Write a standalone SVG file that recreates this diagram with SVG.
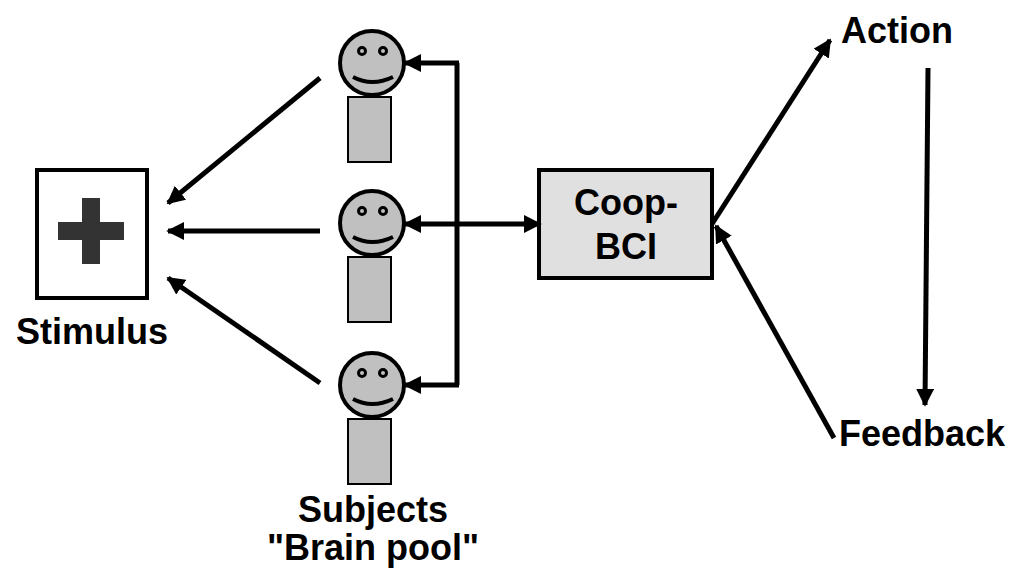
<svg xmlns="http://www.w3.org/2000/svg" width="1024" height="587" viewBox="0 0 1024 587">
<style>
.t{font-family:"Liberation Sans",Arial,sans-serif;font-weight:bold;font-size:36px;fill:#000}
.c{stroke:#000;stroke-width:5;fill:none}
.face{fill:#c0c0c0;stroke:#000;stroke-width:4}
.body{fill:#c0c0c0;stroke:#000;stroke-width:2}
</style>
<defs>
<marker id="a" viewBox="0 0 10 10" refX="9" refY="5" markerWidth="3.6" markerHeight="3.6" orient="auto-start-reverse" markerUnits="strokeWidth"><path d="M0,0 L10,5 L0,10 z" fill="#000"/></marker>
<g id="person">
<circle class="face" cx="0" cy="0" r="32"/>
<circle cx="-10" cy="-12" r="3.5" fill="none" stroke="#000" stroke-width="3"/>
<circle cx="11" cy="-12" r="3.5" fill="none" stroke="#000" stroke-width="3"/>
<path d="M-19,14 Q0,24 21,14" fill="none" stroke="#000" stroke-width="4"/>
<rect class="body" x="-24" y="34" width="43" height="65"/>
</g>
</defs>
<g id="stimulus">
<rect x="37" y="170" width="110" height="128" fill="#fff" stroke="#000" stroke-width="4"/>
<rect x="58" y="222" width="66" height="18" fill="#333"/>
<rect x="82" y="198" width="18" height="66" fill="#333"/>
<text class="t" x="92" y="344" text-anchor="middle">Stimulus</text>
</g>
<g id="subject1"><use href="#person" x="372" y="63"/></g>
<g id="subject2"><use href="#person" x="372" y="223"/></g>
<g id="subject3"><use href="#person" x="372" y="385"/></g>
<g id="subjects-label">
<text class="t" x="373" y="522" text-anchor="middle">Subjects</text>
<text class="t" x="373" y="560" text-anchor="middle">"Brain pool"</text>
</g>
<g id="coop">
<rect x="539" y="170" width="173" height="108" fill="#e0e0e0" stroke="#000" stroke-width="4"/>
<text class="t" x="626" y="215" text-anchor="middle">Coop-</text>
<text class="t" x="626" y="259" text-anchor="middle">BCI</text>
</g>
<g id="action"><text class="t" x="897" y="43" text-anchor="middle">Action</text></g>
<g id="feedback"><text class="t" x="922" y="446" text-anchor="middle">Feedback</text></g>
<g id="connectors">
<line class="c" x1="320" y1="78" x2="168" y2="203" marker-end="url(#a)"/>
<line class="c" x1="320" y1="231" x2="168" y2="231" marker-end="url(#a)"/>
<line class="c" x1="320" y1="383" x2="168" y2="278" marker-end="url(#a)"/>
<path class="c" d="M457,63 V385"/>
<line class="c" x1="459" y1="63" x2="405" y2="63" marker-end="url(#a)"/>
<line class="c" x1="459" y1="385" x2="405" y2="385" marker-end="url(#a)"/>
<line class="c" x1="405" y1="224" x2="540" y2="224" marker-start="url(#a)" marker-end="url(#a)"/>
<line class="c" x1="712" y1="224" x2="830" y2="40" marker-end="url(#a)"/>
<line class="c" x1="928" y1="68" x2="925" y2="405" marker-end="url(#a)"/>
<line class="c" x1="834" y1="438" x2="716" y2="226" marker-end="url(#a)"/>
</g>
</svg>
